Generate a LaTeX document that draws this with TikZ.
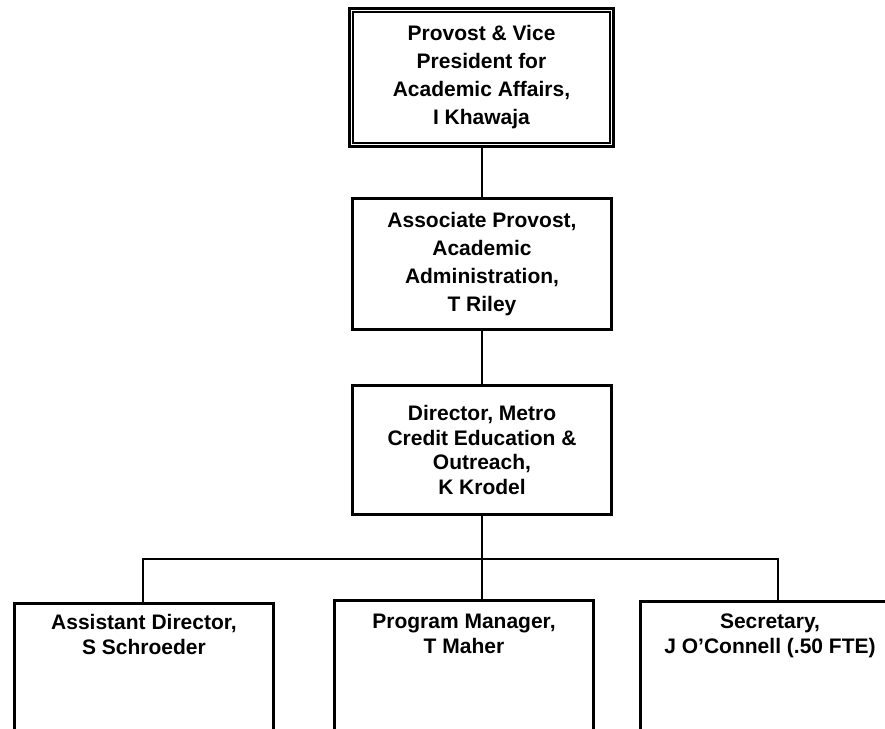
\documentclass[tikz,border=0pt]{standalone}
\usepackage{fontspec}
\setmainfont{Liberation Sans}
\usetikzlibrary{positioning}

\begin{document}
\begin{tikzpicture} [x=1pt,y=-1pt,
       box/.style={draw,line width=2.6pt,minimum width=259pt,align=center,font=\fontsize{21}{28}\selectfont\bfseries},
       lowbox/.style={draw,line width=2.6pt,minimum width=259pt,minimum height=170pt,anchor=north},
       lowtext/.style={inner sep=0pt,align=center,font=\fontsize{21}{25}\selectfont\bfseries},
       link/.style={line width=2pt}]
       \useasboundingbox (0,0) rectangle (885,728);
       \clip (0,0) rectangle (885,728);
       \node [box,minimum width=264pt,minimum height=138pt,line width=3pt] (prov) at (481.5,77.5)
         {Provost \& Vice\\President for\\Academic Affairs,\\I Khawaja};
       \draw [line width=1.2pt] ([shift={(5pt,-5pt)}]prov.north west) rectangle ([shift={(-5pt,5pt)}]prov.south east);
       \node [box,minimum height=131pt] (assoc) at (482,264)
         {Associate Provost,\\Academic\\Administration,\\T Riley};
       \node [box,minimum height=129pt,font=\fontsize{21}{24.5}\selectfont\bfseries] (dir) at (482,450)
         {Director, Metro\\Credit Education \&\\Outreach,\\K Krodel};
       \node [lowbox] (asst) at (144,602) {};
       \node [lowtext,below=12pt of asst.north] (asstT) {Assistant Director,\\S Schroeder};
       \node [lowbox] (prog) at (464,599) {};
       \node [lowtext,below=15pt of prog.north] (progT) {Program Manager,\\T Maher};
       \node [lowbox] (sec) at (770,600) {};
       \node [lowtext,below=14pt of sec.north] (secT) {Secretary,\\J O'Connell (.50 FTE)};
       \coordinate (barL) at (143,559);
       \coordinate (barR) at (778,559);
       \draw [link] (prov.south) -- (prov.south |- assoc.north);
       \draw [link] (assoc.south) -- (assoc.south |- dir.north);
       \draw [link] (dir.south) -- (dir.south |- prog.north);
       \draw [link] (barL |- asst.north) -- (barL) -- (barR) -- (barR |- sec.north);
    \end{tikzpicture}
\end{document}
